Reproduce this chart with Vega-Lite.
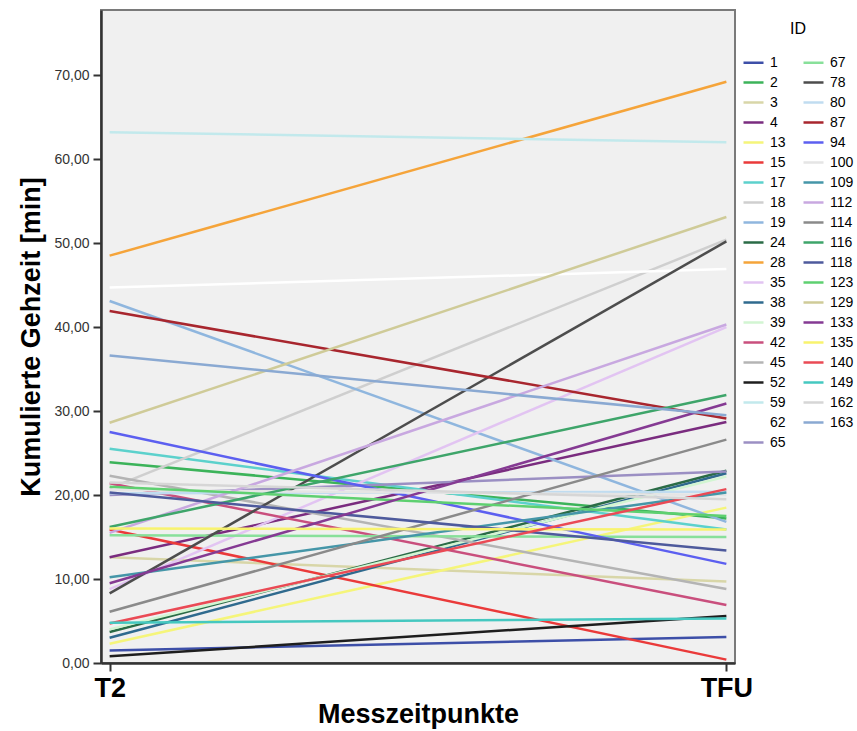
{
  "$schema": "https://vega.github.io/schema/vega-lite/v6.json",
  "width": 634,
  "height": 653,
  "autosize": {"type": "none"},
  "padding": {"left": 101, "top": 10, "right": 122, "bottom": 68},
  "background": "white",
  "config": {
    "font": "Liberation Sans",
    "view": {"fill": "#f0f0f0", "stroke": "#7a7a7a", "strokeWidth": 2}
  },
  "data": {
    "values": [
      {"ID": "1", "Zeit": "T2", "Wert": 1.5}, {"ID": "1", "Zeit": "TFU", "Wert": 3.1},
      {"ID": "2", "Zeit": "T2", "Wert": 23.9}, {"ID": "2", "Zeit": "TFU", "Wert": 17.2},
      {"ID": "3", "Zeit": "T2", "Wert": 12.6}, {"ID": "3", "Zeit": "TFU", "Wert": 9.7},
      {"ID": "4", "Zeit": "T2", "Wert": 12.6}, {"ID": "4", "Zeit": "TFU", "Wert": 28.7},
      {"ID": "13", "Zeit": "T2", "Wert": 2.3}, {"ID": "13", "Zeit": "TFU", "Wert": 18.5},
      {"ID": "15", "Zeit": "T2", "Wert": 15.9}, {"ID": "15", "Zeit": "TFU", "Wert": 0.4},
      {"ID": "17", "Zeit": "T2", "Wert": 25.5}, {"ID": "17", "Zeit": "TFU", "Wert": 15.9},
      {"ID": "18", "Zeit": "T2", "Wert": 20.8}, {"ID": "18", "Zeit": "TFU", "Wert": 50.4},
      {"ID": "19", "Zeit": "T2", "Wert": 43.1}, {"ID": "19", "Zeit": "TFU", "Wert": 16.8},
      {"ID": "24", "Zeit": "T2", "Wert": 3.7}, {"ID": "24", "Zeit": "TFU", "Wert": 22.9},
      {"ID": "28", "Zeit": "T2", "Wert": 48.5}, {"ID": "28", "Zeit": "TFU", "Wert": 69.2},
      {"ID": "35", "Zeit": "T2", "Wert": 8.8}, {"ID": "35", "Zeit": "TFU", "Wert": 40.0},
      {"ID": "38", "Zeit": "T2", "Wert": 3.0}, {"ID": "38", "Zeit": "TFU", "Wert": 22.6},
      {"ID": "39", "Zeit": "T2", "Wert": 4.0}, {"ID": "39", "Zeit": "TFU", "Wert": 22.2},
      {"ID": "42", "Zeit": "T2", "Wert": 21.4}, {"ID": "42", "Zeit": "TFU", "Wert": 6.9},
      {"ID": "45", "Zeit": "T2", "Wert": 22.3}, {"ID": "45", "Zeit": "TFU", "Wert": 8.8},
      {"ID": "52", "Zeit": "T2", "Wert": 0.8}, {"ID": "52", "Zeit": "TFU", "Wert": 5.6},
      {"ID": "59", "Zeit": "T2", "Wert": 63.2}, {"ID": "59", "Zeit": "TFU", "Wert": 62.0},
      {"ID": "62", "Zeit": "T2", "Wert": 44.7}, {"ID": "62", "Zeit": "TFU", "Wert": 46.9},
      {"ID": "65", "Zeit": "T2", "Wert": 20.0}, {"ID": "65", "Zeit": "TFU", "Wert": 22.8},
      {"ID": "67", "Zeit": "T2", "Wert": 15.2}, {"ID": "67", "Zeit": "TFU", "Wert": 15.0},
      {"ID": "78", "Zeit": "T2", "Wert": 8.3}, {"ID": "78", "Zeit": "TFU", "Wert": 50.2},
      {"ID": "80", "Zeit": "T2", "Wert": 20.2}, {"ID": "80", "Zeit": "TFU", "Wert": 20.4},
      {"ID": "87", "Zeit": "T2", "Wert": 41.9}, {"ID": "87", "Zeit": "TFU", "Wert": 29.1},
      {"ID": "94", "Zeit": "T2", "Wert": 27.5}, {"ID": "94", "Zeit": "TFU", "Wert": 11.8},
      {"ID": "100", "Zeit": "T2", "Wert": 20.6}, {"ID": "100", "Zeit": "TFU", "Wert": 20.0},
      {"ID": "109", "Zeit": "T2", "Wert": 10.2}, {"ID": "109", "Zeit": "TFU", "Wert": 20.3},
      {"ID": "112", "Zeit": "T2", "Wert": 15.5}, {"ID": "112", "Zeit": "TFU", "Wert": 40.3},
      {"ID": "114", "Zeit": "T2", "Wert": 6.1}, {"ID": "114", "Zeit": "TFU", "Wert": 26.6},
      {"ID": "116", "Zeit": "T2", "Wert": 16.2}, {"ID": "116", "Zeit": "TFU", "Wert": 31.9},
      {"ID": "118", "Zeit": "T2", "Wert": 20.3}, {"ID": "118", "Zeit": "TFU", "Wert": 13.4},
      {"ID": "123", "Zeit": "T2", "Wert": 21.0}, {"ID": "123", "Zeit": "TFU", "Wert": 17.5},
      {"ID": "129", "Zeit": "T2", "Wert": 28.6}, {"ID": "129", "Zeit": "TFU", "Wert": 53.1},
      {"ID": "133", "Zeit": "T2", "Wert": 9.5}, {"ID": "133", "Zeit": "TFU", "Wert": 30.9},
      {"ID": "135", "Zeit": "T2", "Wert": 16.0}, {"ID": "135", "Zeit": "TFU", "Wert": 15.9},
      {"ID": "140", "Zeit": "T2", "Wert": 4.7}, {"ID": "140", "Zeit": "TFU", "Wert": 20.7},
      {"ID": "149", "Zeit": "T2", "Wert": 4.8}, {"ID": "149", "Zeit": "TFU", "Wert": 5.3},
      {"ID": "162", "Zeit": "T2", "Wert": 21.5}, {"ID": "162", "Zeit": "TFU", "Wert": 19.5},
      {"ID": "163", "Zeit": "T2", "Wert": 36.6}, {"ID": "163", "Zeit": "TFU", "Wert": 29.5}
    ]
  },
  "mark": {"type": "line", "strokeWidth": 2.5},
  "encoding": {
    "x": {
      "field": "Zeit",
      "type": "nominal",
      "sort": ["T2", "TFU"],
      "scale": {"padding": 0.014},
      "axis": {
        "title": "Messzeitpunkte",
        "titleFontSize": 27,
        "titleFontWeight": "bold",
        "titleColor": "#000000",
        "titlePadding": 0,
        "labelAngle": 0,
        "labelFontSize": 27,
        "labelFontWeight": "bold",
        "labelColor": "#000000",
        "labelPadding": 4,
        "tickSize": 8,
        "tickColor": "#333333",
        "tickWidth": 2,
        "domainColor": "#333333",
        "domainWidth": 2.5,
        "grid": false
      }
    },
    "y": {
      "field": "Wert",
      "type": "quantitative",
      "scale": {"domain": [0, 77.75], "nice": false, "zero": true},
      "axis": {
        "title": "Kumulierte Gehzeit [min]",
        "titleFontSize": 27,
        "titleFontWeight": "bold",
        "titleColor": "#000000",
        "titlePadding": 8,
        "values": [0, 10, 20, 30, 40, 50, 60, 70],
        "labelExpr": "replace(format(datum.value, '.2f'), '.', ',')",
        "labelFontSize": 14,
        "labelColor": "#333333",
        "labelPadding": 4,
        "tickSize": 8,
        "tickColor": "#333333",
        "tickWidth": 2,
        "domainColor": "#333333",
        "domainWidth": 2.5,
        "grid": false
      }
    },
    "color": {
      "field": "ID",
      "type": "nominal",
      "scale": {
        "domain": ["1", "2", "3", "4", "13", "15", "17", "18", "19", "24", "28", "35", "38", "39", "42", "45", "52", "59", "62", "65", "67", "78", "80", "87", "94", "100", "109", "112", "114", "116", "118", "123", "129", "133", "135", "140", "149", "162", "163"],
        "range": ["#3d4fa8", "#3cb35a", "#d8d6a8", "#7a2c7f", "#f5f57a", "#ea3a3a", "#5cd1cc", "#cfcfcf", "#8fb6de", "#2a6b46", "#f5a43a", "#e2c4f2", "#2f6a8e", "#d2f5d2", "#c94f7d", "#b4b4b4", "#1e1e1e", "#c2e9ec", "#ffffff", "#9b8fc3", "#88e09a", "#4d4d4d", "#c0dcf0", "#a8262e", "#5c5ff0", "#e5e5e5", "#4596a8", "#c8a8e0", "#8a8a8a", "#3ea56a", "#4e5a9c", "#5ed070", "#cfcb98", "#853a93", "#f8f36e", "#ea4a55", "#45c8c0", "#d6d6d6", "#8aa9d2"]
      },
      "legend": {
        "orient": "none",
        "legendX": 641,
        "legendY": 11,
        "columns": 2,
        "columnPadding": 12,
        "rowPadding": 1,
        "symbolLimit": 0,
        "symbolType": "stroke",
        "symbolSize": 400,
        "symbolStrokeWidth": 2.5,
        "labelFontSize": 14,
        "labelColor": "#000000",
        "labelOffset": 5,
        "labelLimit": 40,
        "title": "ID",
        "titleFontSize": 16,
        "titleFontWeight": "normal",
        "titleColor": "#000000",
        "titleAnchor": "middle",
        "titlePadding": 14
      }
    }
  }
}
